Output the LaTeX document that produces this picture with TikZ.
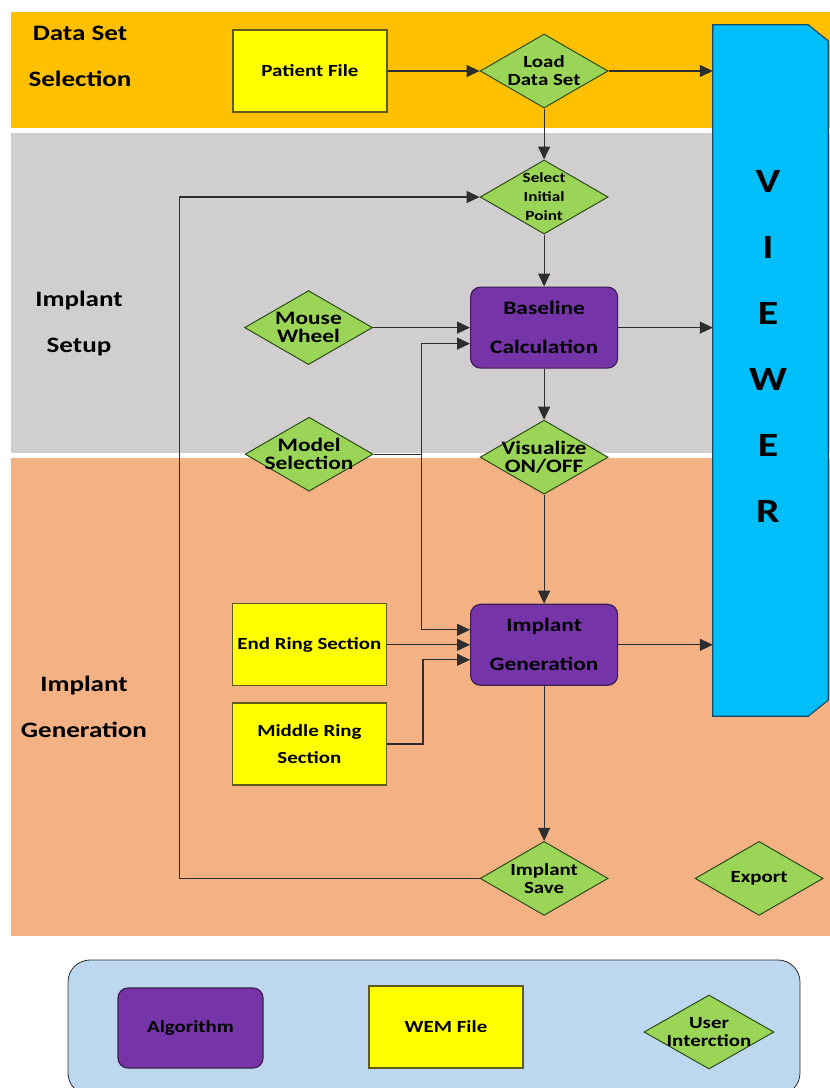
\documentclass[tikz,border=0pt]{standalone}
\usepackage{fontspec}
\setmainfont{Carlito}[FakeStretch=1.23]
\usepackage{tikz}
\usetikzlibrary{shapes.geometric, arrows.meta, positioning, calc}
\definecolor{bandorange}{RGB}{255,192,0}
\definecolor{bandgray}{RGB}{208,206,206}
\definecolor{bandsalmon}{RGB}{244,177,131}
\definecolor{wemyellow}{RGB}{255,255,0}
\definecolor{wemedge}{RGB}{95,90,30}
\definecolor{algopurple}{RGB}{117,52,168}
\definecolor{algoedge}{RGB}{60,30,85}
\definecolor{usergreen}{RGB}{155,213,88}
\definecolor{useredge}{RGB}{45,75,25}
\definecolor{viewerblue}{RGB}{0,190,250}
\definecolor{vieweredge}{RGB}{20,75,105}
\definecolor{legendblue}{RGB}{189,215,238}
\definecolor{linedark}{RGB}{45,45,45}
\newcommand{\fsz}[2]{\fontsize{#1}{#2}\selectfont}
\tikzset{
  wemfile/.style={rectangle, draw=wemedge, fill=wemyellow,
    minimum width=154pt, minimum height=82pt, inner sep=2pt,
    align=center, font=\bfseries\fsz{17}{27}, line width=1.2pt},
  algo/.style={rectangle, draw=algoedge, fill=algopurple,
    minimum width=147pt, minimum height=81pt, rounded corners=10pt,
    align=center, font=\bfseries\fsz{19}{39}, line width=1.2pt},
  userbox/.style={diamond, draw=useredge, fill=usergreen, shape aspect=1.75,
    minimum width=128pt, minimum height=74pt, inner sep=-5pt,
    align=center, font=\bfseries\fsz{17}{18}, line width=1pt},
  bandlabel/.style={align=center, font=\bfseries\fsz{22}{46}},
  viewer/.style={rectangle, minimum width=115pt, minimum height=691pt, inner sep=0pt},
  legendframe/.style={rectangle, draw=linedark, fill=legendblue, rounded corners=22pt,
    minimum width=732pt, minimum height=135pt, line width=0.8pt},
  arrow/.style={-{Triangle[length=13pt,width=12pt]}, line width=1.1pt, color=linedark},
  line/.style={line width=1.1pt, color=linedark}
}

\begin{document}
\begin{tikzpicture}[x=1pt, y=-1pt]
  \useasboundingbox (0,0) rectangle (830,1088);

  % swim lanes
  \fill[bandorange] (11,12) rectangle (830,128);
  \fill[bandgray] (11,133) rectangle (830,453);
  \fill[bandsalmon] (11,458) rectangle (830,936);
  \node[bandlabel] (lblsel) at (80,56) {Data Set\\Selection};
  \node[bandlabel] (lblset) at (79,324) {Implant\\Setup};
  \node[bandlabel] (lblgen) at (84,707) {Implant\\Generation};

  % viewer
  \node[viewer] (viewer) at (770.5,370.5) {};
  \filldraw[fill=viewerblue, draw=vieweredge, line width=1.2pt]
    (viewer.north west) -- ([xshift=-20pt]viewer.north east)
    -- ([yshift=-16pt]viewer.north east) -- ([yshift=16pt]viewer.south east)
    -- ([xshift=-20pt]viewer.south east) -- (viewer.south west) -- cycle;
  \node[align=center, font=\bfseries\fsz{34}{66}] (viewerlbl) at (768,346.5) {V\\I\\E\\W\\E\\R};

  % Data set selection
  \node[wemfile] (patient) at (310,71) {Patient File};
  \node[userbox, right=92pt of patient] (load) {Load\\Data Set};
  \draw[arrow] (patient) -- (load);
  \draw[arrow] (load) -- (load -| viewer.west);

  % Implant setup
  \node[userbox, below=51pt of load, font=\bfseries\fsz{14}{19}] (select) {Select\\Initial\\Point};
  \node[algo, below=52pt of select] (base) {Baseline\\Calculation};
  \node[userbox, left=97pt of base, font=\bfseries\fsz{19}{18}] (mouse) {Mouse\\Wheel};
  \node[userbox, below=51pt of base, font=\bfseries\fsz{19}{18}] (vis) {Visualize\\ON/OFF};
  \node[userbox, left=106pt of vis, yshift=3pt, font=\bfseries\fsz{19}{18}] (model) {Model\\Selection};
  \draw[arrow] (load) -- (select);
  \draw[arrow] (select) -- (base);
  \draw[arrow] (mouse) -- (mouse -| base.west);
  \draw[arrow] (base) -- (base -| viewer.west);
  \draw[arrow] (base) -- (vis);

  % Implant generation
  \node[algo, below=109pt of vis] (gen) {Implant\\Generation};
  \node[wemfile, left=83pt of gen] (endring) {End Ring Section};
  \node[wemfile, below=16pt of endring] (middle) {Middle Ring\\Section};
  \node[userbox, below=155pt of gen] (save) {Implant\\Save};
  \node[userbox, right=86pt of save] (export) {Export};
  \draw[line] (model.east) -- ++(48,0) coordinate (modeljoin);
  \draw[arrow] (modeljoin) |- ([yshift=-16pt]base.west);
  \draw[arrow] (modeljoin) |- ([yshift=15pt]gen.west);
  \draw[arrow] (vis) -- (gen);
  \draw[arrow] (endring) -- (gen);
  \draw[arrow] (middle.east) -- ++(36,0) |- ([yshift=-15pt]gen.west);
  \draw[arrow] (gen) -- (gen -| viewer.west);
  \draw[arrow] (gen) -- (save);
  \draw[arrow] (save.west) -- ++(-300,0) |- (select.west);

  % legend
  \node[legendframe] (legend) at (434,1027.5) {};
  \node[algo, minimum width=145pt, minimum height=80pt, font=\bfseries\fsz{17}{20}] (keyalgo) at (190.5,1028) {Algorithm};
  \node[wemfile] (keywem) at (446,1027) {WEM File};
  \node[userbox, minimum width=130pt] (keyuser) at (709,1032) {User\\Interction};
\end{tikzpicture}
\end{document}
